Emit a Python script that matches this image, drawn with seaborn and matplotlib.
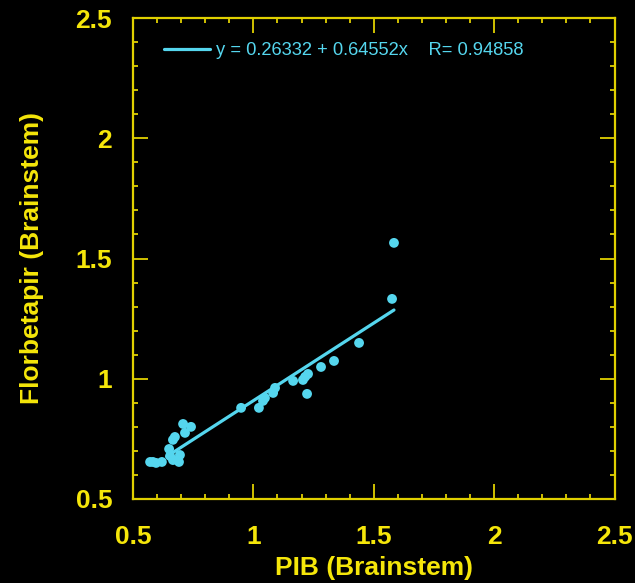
import matplotlib
matplotlib.use("Agg")
import matplotlib.pyplot as plt
import seaborn as sns
import numpy as np
import pandas as pd
from matplotlib.ticker import MultipleLocator

# data
pib = [0.571, 0.583, 0.596, 0.620, 0.650, 0.654, 0.666, 0.674, 0.666, 0.695,
       0.691, 0.708, 0.741, 0.716, 0.949, 1.023, 1.040, 1.048, 1.082, 1.090,
       1.165, 1.206, 1.215, 1.227, 1.223, 1.281, 1.335, 1.439, 1.576, 1.584]
florbetapir = [0.654, 0.654, 0.650, 0.654, 0.708, 0.679, 0.662, 0.758, 0.746, 0.683,
               0.654, 0.812, 0.800, 0.775, 0.879, 0.879, 0.908, 0.920, 0.941, 0.962,
               0.991, 0.995, 1.008, 1.020, 0.937, 1.049, 1.074, 1.149, 1.332, 1.565]
intercept = 0.26332
slope = 0.64552
r_value = 0.94858
fit_x = [0.64, 1.584]
x_ticks = [0.5, 1, 1.5, 2, 2.5]
y_ticks = [0.5, 1, 1.5, 2, 2.5]

YEL = "#f5e60a"
SPINE = "#e0d000"
CYAN = "#55d6ee"

sns.set_style("dark")
plt.rcParams["font.family"] = ["Liberation Sans", "DejaVu Sans"]

fig = plt.figure(figsize=(6.35, 5.83), dpi=100, facecolor="black")
ax = fig.add_axes([133/635, 1-499/583, (614.5-133)/635, (499-18)/583])
ax.set_facecolor("black")

df = pd.DataFrame({"x": pib, "y": florbetapir})
sns.scatterplot(data=df, x="x", y="y", ax=ax, color=CYAN, s=50,
                edgecolor="none", zorder=3)

fit_y = [intercept + slope * v for v in fit_x]
label = f"y = {intercept} + {slope}x    R= {r_value}"
sns.lineplot(x=fit_x, y=fit_y, ax=ax, color=CYAN, linewidth=2.3,
             label=label, zorder=2)

ax.set_xlim(0.5, 2.5)
ax.set_ylim(0.5, 2.5)
ax.set_xticks(x_ticks)
ax.set_yticks(y_ticks)
ax.set_xticklabels([f"{v:g}" for v in x_ticks])
ax.set_yticklabels([f"{v:g}" for v in y_ticks])
ax.xaxis.set_minor_locator(MultipleLocator(0.1))
ax.yaxis.set_minor_locator(MultipleLocator(0.1))
ax.grid(False)

for s in ax.spines.values():
    s.set_visible(True)
    s.set_color(SPINE)
    s.set_linewidth(1.6)

ax.tick_params(which="both", direction="in", top=True, right=True,
               bottom=True, left=True, color=SPINE, width=1.3)
ax.tick_params(which="major", length=10.8)
ax.tick_params(which="minor", length=3.6)
ax.tick_params(axis="x", which="major", labelsize=19, labelcolor=YEL, pad=19)
ax.tick_params(axis="y", which="major", labelsize=19, labelcolor=YEL, pad=15)
for t in ax.get_xticklabels() + ax.get_yticklabels():
    t.set_fontweight("bold")

ax.set_xlabel("PIB (Brainstem)", fontsize=19, fontweight="bold", color=YEL, labelpad=5)
ax.set_ylabel("Florbetapir (Brainstem)", fontsize=19, fontweight="bold", color=YEL, labelpad=23)

leg = ax.legend(loc="upper left", bbox_to_anchor=(0.05, 0.965), frameon=False,
                fontsize=13.2, handlelength=2.5, handletextpad=0.3, borderaxespad=0)
for t in leg.get_texts():
    t.set_color(CYAN)

fig.savefig("out.png", dpi=100, facecolor="black")
